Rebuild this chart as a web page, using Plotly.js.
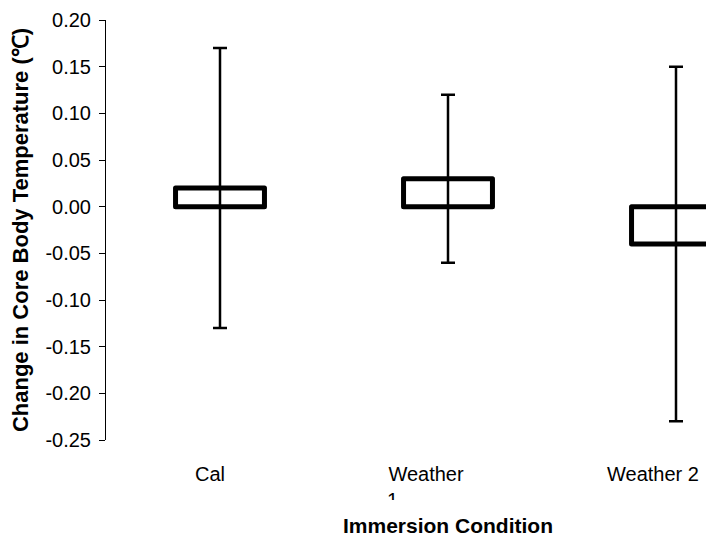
<!DOCTYPE html>
<html><head><meta charset="utf-8">
<script src="https://cdn.plot.ly/plotly-3.0.1.min.js"></script>
<style>
html,body{margin:0;padding:0;background:#fff;overflow:hidden;width:706px;height:537px}
#chart{width:790px;height:537px}
.bars .point path{stroke-linejoin:round}
</style>
</head><body><div id="chart"></div>
<script>
// ---- data ----
const categories = ["Cal", "Weather 1", "Weather 2"];
const tickLabels = ["Cal", "Weather<br>1\u00A0\u00A0\u00A0\u00A0\u00A0\u00A0\u00A0\u00A0\u00A0\u00A0\u00A0\u00A0", "Weather 2"];
const meanChange = [0.02, 0.03, -0.04];
const errorSize = [0.15, 0.09, 0.19];
const yTickVals = [-0.25, -0.20, -0.15, -0.10, -0.05, 0.00, 0.05, 0.10, 0.15, 0.20];
const yTickText = ["-0.25", "-0.20", "-0.15", "-0.10", "-0.05", "0.00", "0.05", "0.10", "0.15", "0.20"];

// ---- layout helpers (style only) ----
const pxPerCat = 228;
const labelShiftPx = [-10, -22, -23];
const xIdx = categories.map((c, i) => i);
const xTickVals = xIdx.map((i) => i + labelShiftPx[i] / pxPerCat);
const FONT = "Liberation Sans, Arial, Helvetica, sans-serif";

const trace = {
  type: "bar",
  x: xIdx,
  y: meanChange,
  width: 0.39,
  marker: {color: "#ffffff", line: {color: "#000000", width: 5}},
  error_y: {type: "data", array: errorSize, visible: true, color: "#000000", thickness: 2.5, width: 7},
  hoverinfo: "skip"
};

const layout = {
  width: 790, height: 537,
  margin: {l: 106, r: 0, t: 20, b: 97},
  paper_bgcolor: "#ffffff", plot_bgcolor: "#ffffff",
  showlegend: false,
  font: {family: FONT, color: "#000000", size: 20},
  xaxis: {
    range: [-0.5, 2.5], showgrid: false, zeroline: false, showline: false,
    tickmode: "array", tickvals: xTickVals, ticktext: tickLabels, ticks: "",
    ticklabelstandoff: 20,
    tickfont: {family: FONT, size: 20, color: "#000000"},
    title: {text: "<b>Immersion Condition</b>", font: {family: FONT, size: 21, color: "#000000"}, standoff: 30}
  },
  yaxis: {
    range: [-0.25, 0.20], showgrid: false, zeroline: false,
    showline: true, linecolor: "#000000", linewidth: 1,
    ticks: "outside", ticklen: 6, tickcolor: "#000000", tickwidth: 1,
    ticklabelstandoff: 4,
    tickmode: "array", tickvals: yTickVals, ticktext: yTickText,
    tickfont: {family: FONT, size: 20, color: "#000000"},
    title: {text: "<b>Change in Core Body Temperature (\u2103)</b>", font: {family: FONT, size: 22, color: "#000000"}, standoff: 10}
  },
  shapes: [{
    type: "rect", xref: "paper", yref: "paper", layer: "above",
    x0: 0.40, x1: 0.54, y0: -0.1429, y1: -0.1786,
    fillcolor: "#ffffff", line: {width: 0}
  }]
};

Plotly.newPlot("chart", [trace], layout, {displayModeBar: false, staticPlot: true});
</script>
</body></html>
